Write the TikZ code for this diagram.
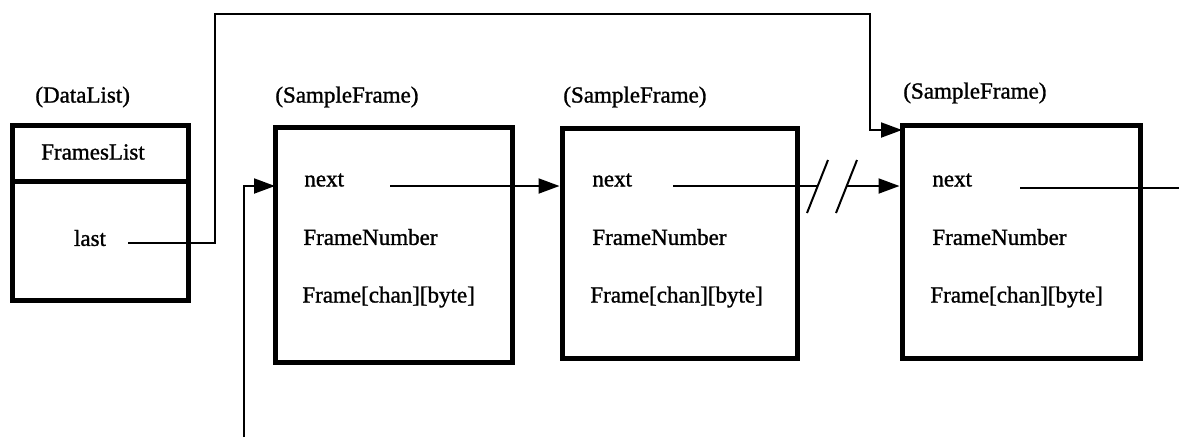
\documentclass[tikz,border=0pt]{standalone}
\usepackage{fontspec}
\setmainfont{Liberation Serif}
\newfontfamily\diagfont[FakeBold=1.2]{Liberation Serif}
\usetikzlibrary{arrows.meta}
\begin{document}
\begin{tikzpicture}[x=0.5pt,y=-0.5pt,
  box/.style={draw,line width=2.5pt,inner sep=0pt},
  lbl/.style={anchor=west,inner sep=0pt,font=\diagfont\fontsize{11.5}{13}\selectfont},
  conn/.style={line width=1pt},
  arr/.style={line width=1pt,-{Triangle[length=10.5pt,width=7.5pt]}},
  brk/.style={line width=1pt}]
\useasboundingbox (0,0) rectangle (1179,441);
% DataList
\node[lbl] (dlname) at (35,97) {(DataList)};
\node[box,minimum width=88pt,minimum height=87.5pt] (dl) at (100,212.5) {};
\coordinate (dlsplitL) at (12,181);
\draw[line width=2.5pt] (dlsplitL) -- (dlsplitL -| dl.east);
\node[lbl,anchor=center] (fl) at (93,152) {FramesList};
\node[lbl,anchor=center] (last) at (90,238) {last};
% Frame boxes
\node[lbl] (sf1) at (275,97) {(SampleFrame)};
\node[lbl] (sf2) at (563,97) {(SampleFrame)};
\node[lbl] (sf3) at (903,93) {(SampleFrame)};
\node[box,minimum width=118.5pt,minimum height=117.5pt] (b1) at (393.5,244.5) {};
\node[box,minimum width=117.5pt,minimum height=115pt] (b2) at (679.5,243) {};
\node[box,minimum width=119pt,minimum height=116.5pt] (b3) at (1021,241.5) {};
\node[lbl] (nx1) at (304,180) {next};
\node[lbl] (fn1) at (303,237) {FrameNumber};
\node[lbl] (fc1) at (302,297) {Frame[chan][byte]};
\node[lbl] (nx2) at (592,180) {next};
\node[lbl] (fn2) at (592,237) {FrameNumber};
\node[lbl] (fc2) at (590,297) {Frame[chan][byte]};
\node[lbl] (nx3) at (932,180) {next};
\node[lbl] (fn3) at (932,237) {FrameNumber};
\node[lbl] (fc3) at (930,297) {Frame[chan][byte]};
% last -> box 3
\coordinate (lastout) at (128,243);
\coordinate (b3in) at (902,130);
\draw[arr] (lastout) -- (215,243) -- (215,14) -- (870,14) -- (870,130) -- (b3in);
% incoming to box 1
\coordinate (inbot) at (244,437);
\coordinate (b1in) at (275,186);
\draw[arr] (inbot) -- (244,186) -- (b1in);
% next1 -> box2
\coordinate (n1o) at (390,186);
\draw[arr] (n1o) -- (n1o -| b2.west);
% next2 -> box3 with break
\coordinate (n2o) at (673,186);
\coordinate (bk1) at (818,186);
\coordinate (bk2) at (847,186);
\draw[conn] (n2o) -- (bk1);
\draw[arr] (bk2) -- (bk2 -| b3.west);
\draw[brk] (807,213) -- (828,160);
\draw[brk] (836,213) -- (857,160);
% next3 -> out
\coordinate (n3o) at (1020,188);
\coordinate (n3end) at (1179,188);
\draw[conn] (n3o) -- (n3end);
\end{tikzpicture}
\end{document}
